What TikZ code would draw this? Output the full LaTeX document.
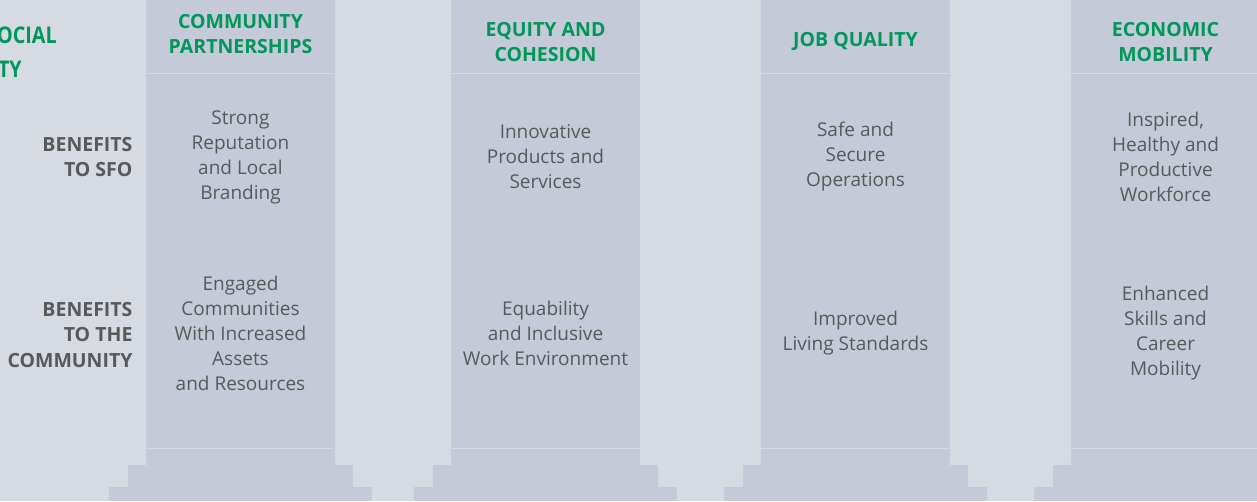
\documentclass[tikz,border=0pt]{standalone}
\usepackage{fontspec}
\usepackage{xcolor}
\usepackage{tikz}
\setmainfont{Open Sans}
\definecolor{bgcol}{HTML}{D6DBE3}
\definecolor{pillarcol}{HTML}{C4CAD7}
\definecolor{headgreen}{HTML}{00965C}
\definecolor{textgray}{HTML}{58595B}
\tikzset{
	pillar/.style={fill=pillarcol, draw=none, inner sep=0pt, outer sep=0pt},
	shaft/.style={pillar, minimum width=189pt, minimum height=465pt, anchor=north west},
	plinth/.style={pillar, minimum width=225pt, minimum height=22pt, anchor=north},
	footing/.style={pillar, minimum width=263pt, minimum height=14pt, anchor=north},
	sepline/.style={draw=bgcol, line width=1pt},
	head/.style={text=headgreen, font=\bfseries\fontsize{19.5}{25.5}\selectfont, align=center},
	txt/.style={text=textgray, font=\fontsize{19}{25}\selectfont, align=center},
	rowlabel/.style={text=textgray, font=\bfseries\fontsize{19.5}{25.5}\selectfont, align=right, anchor=east},
	title/.style={text=headgreen, font=\bfseries\fontsize{23}{34}\selectfont, anchor=base east, inner sep=0pt}
}

\begin{document}
\begin{tikzpicture}[x=1pt, y=-1pt]
			\useasboundingbox (0,0) rectangle (1257,501);
			\clip (0,0) rectangle (1257,501);
			\fill[bgcol] (0,0) rectangle (1257,501);

			% pillars
			\node[shaft] (shaftA) at (146,0) {};
			\node[shaft] (shaftB) at (451,0) {};
			\node[shaft] (shaftC) at (761,0) {};
			\node[shaft] (shaftD) at (1071,0) {};
			\node[plinth] (plinthA) at (shaftA.south) {};
			\node[plinth] (plinthB) at (shaftB.south) {};
			\node[plinth] (plinthC) at (shaftC.south) {};
			\node[plinth] (plinthD) at (shaftD.south) {};
			\node[footing] (footA) at (plinthA.south) {};
			\node[footing] (footB) at (plinthB.south) {};
			\node[footing] (footC) at (plinthC.south) {};
			\node[footing] (footD) at (plinthD.south) {};

			\draw[sepline] ([yshift=-73pt]shaftA.north west) -- ([yshift=-73pt, xshift=-2pt]shaftA.north east);
			\draw[sepline] ([yshift=-73pt]shaftB.north west) -- ([yshift=-73pt]shaftB.north east);
			\draw[sepline] ([yshift=-73pt]shaftC.north west) -- ([yshift=-73pt]shaftC.north east);
			\draw[sepline] ([yshift=-73pt]shaftD.north west) -- ([yshift=-73pt]shaftD.north east);
			\draw[sepline] ([yshift=17pt]shaftA.south west) -- ([yshift=17pt, xshift=-2pt]shaftA.south east);
			\draw[sepline] ([yshift=17pt]shaftB.south west) -- ([yshift=17pt]shaftB.south east);
			\draw[sepline] ([yshift=17pt]shaftC.south west) -- ([yshift=17pt]shaftC.south east);
			\draw[sepline] ([yshift=17pt]shaftD.south west) -- ([yshift=17pt]shaftD.south east);

			% title, cut at the left edge
			\node[title] (titleA) at (57,43) {\scalebox{0.86}[1]{OCIAL}};
			\node[title] (titleB) at (22,77) {\scalebox{0.86}[1]{TY}};

			% headers
			\node[head] (headA) at (240.5,34) {COMMUNITY\\PARTNERSHIPS};
			\node[head] (headB) at (545.5,42) {EQUITY AND\\COHESION};
			\node[head] (headC) at (855.5,41) {JOB QUALITY};
			\node[head] (headD) at (1165.5,42) {ECONOMIC\\MOBILITY};

			% row labels
			\node[rowlabel] (sfo) at (136,157) {BENEFITS\\TO SFO};
			\node[rowlabel] (community) at (136,335) {BENEFITS\\TO THE\\COMMUNITY};

			% benefits to SFO
			\node[txt] (sfoA) at (240.5,157) {Strong\\Reputation\\and Local\\Branding};
			\node[txt] (sfoB) at (545.5,157) {Innovative\\Products and\\Services};
			\node[txt] (sfoC) at (855.5,157) {Safe and\\Secure\\Operations};
			\node[txt] (sfoD) at (1165.5,157) {Inspired,\\Healthy and\\Productive\\Workforce};

			% benefits to the community
			\node[txt] (comA) at (240.5,333) {Engaged\\Communities\\With Increased\\Assets\\and Resources};
			\node[txt] (comB) at (545.5,333) {Equability\\and Inclusive\\Work Environment};
			\node[txt] (comC) at (855.5,333) {Improved\\Living Standards};
			\node[txt] (comD) at (1165.5,333) {Enhanced\\Skills and\\Career\\Mobility};
		\end{tikzpicture}
\end{document}
